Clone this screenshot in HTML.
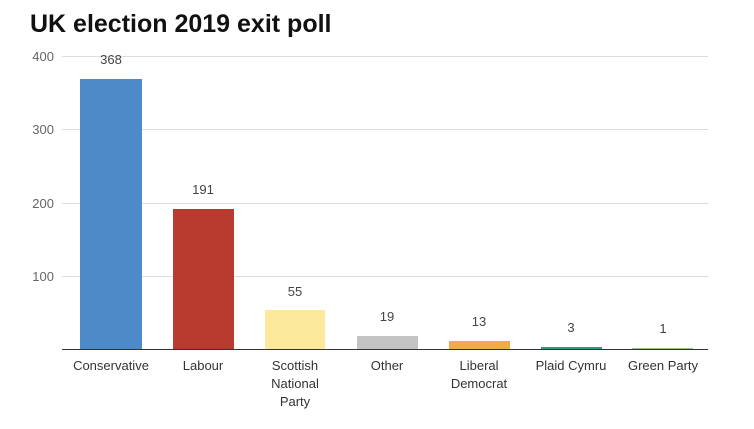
<!DOCTYPE html>
<html><head><style>body{margin:0;background:#fff}svg{display:block}</style></head><body>
<svg width="754" height="429" xmlns="http://www.w3.org/2000/svg" font-family="Liberation Sans, sans-serif">
<text x="30" y="32" font-size="25" font-weight="bold" fill="#111">UK election 2019 exit poll</text>
<g stroke="#ddd" stroke-width="1">
<line x1="62" x2="708" y1="56.5" y2="56.5"/><line x1="62" x2="708" y1="129.5" y2="129.5"/>
<line x1="62" x2="708" y1="203.5" y2="203.5"/><line x1="62" x2="708" y1="276.5" y2="276.5"/>
</g>
<g font-size="13" fill="#666" text-anchor="end">
<text x="54" y="61">400</text><text x="54" y="134">300</text><text x="54" y="208">200</text><text x="54" y="281">100</text>
</g>
<rect x="80" y="79" width="62" height="270" fill="#4e8ac8"/>
<rect x="173" y="209" width="61" height="140" fill="#b93a2e"/>
<rect x="265" y="310" width="60" height="39" fill="#fde99b"/>
<rect x="357" y="336" width="61" height="13" fill="#c3c3c3"/>
<rect x="449" y="341" width="61" height="8" fill="#f0ac4b"/>
<rect x="541" y="347" width="61" height="2" fill="#2a9e74"/>
<rect x="632" y="348.3" width="61" height="0.7" fill="#6ab04c"/>
<line x1="62" x2="708" y1="349.5" y2="349.5" stroke="#333" stroke-width="1"/>
<g font-size="13" fill="#444" text-anchor="middle">
<text x="111" y="64">368</text><text x="203" y="194">191</text><text x="295" y="296">55</text>
<text x="387" y="321">19</text><text x="479" y="326">13</text><text x="571" y="332">3</text><text x="663" y="333">1</text>
</g>
<g font-size="13" fill="#333" text-anchor="middle">
<text x="111" y="370">Conservative</text><text x="203" y="370">Labour</text>
<text x="295" y="370">Scottish</text><text x="295" y="388">National</text><text x="295" y="406">Party</text>
<text x="387" y="370">Other</text>
<text x="479" y="370">Liberal</text><text x="479" y="388">Democrat</text>
<text x="571" y="370">Plaid Cymru</text><text x="663" y="370">Green Party</text>
</g>
</svg>
</body></html>
